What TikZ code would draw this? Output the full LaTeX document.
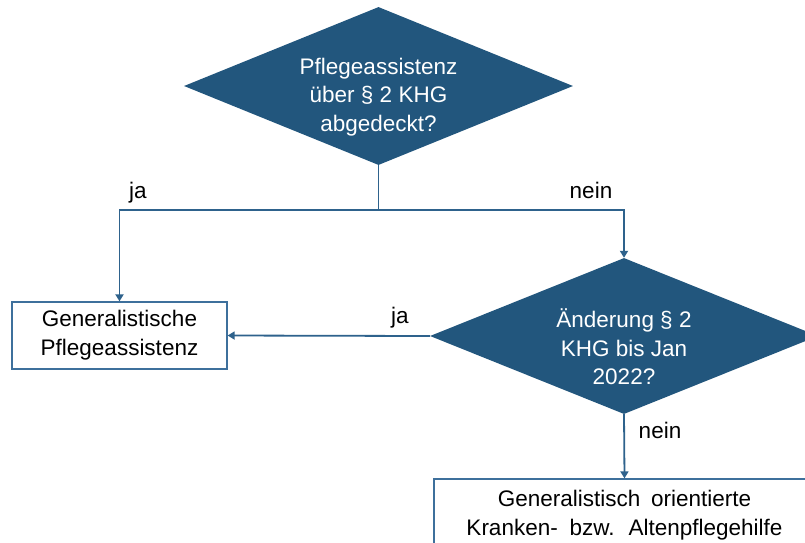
\documentclass[tikz,border=0pt]{standalone}
\usepackage{fontspec}
\setmainfont{Liberation Sans}
\usetikzlibrary{shapes.geometric,arrows.meta}
\definecolor{dfill}{RGB}{34,86,125}
\definecolor{lblue}{RGB}{46,98,140}
\definecolor{bblue}{RGB}{62,112,156}
\tikzset{
  dec/.style={shape=diamond, fill=dfill, draw=none, inner sep=0pt},
  dtext/.style={text=white, align=center, inner sep=0pt, font=\fontsize{22.5}{28.5}\selectfont},
  outbox/.style={draw=bblue, line width=1.3pt, fill=white, inner sep=0pt, align=center, font=\fontsize{22.5}{29}\selectfont},
  conn/.style={draw=lblue, line width=1.8pt},
  arr/.style={conn, -{Triangle[length=7pt,width=8pt]}},
  lbl/.style={font=\fontsize{22.5}{27}\selectfont, inner sep=0pt}
}
\begin{document}
\begin{tikzpicture}[x=1pt,y=-1pt]
\useasboundingbox (0,0) rectangle (805,542);
\clip (0,0) rectangle (805,542);
\fill[white] (0,0) rectangle (805,542);
% decisions
\node[dec, minimum width=389pt, minimum height=158pt] (d1) at (378.5,86) {};
\node[dtext] (d1t) at (378.5,97) {Pflegeassistenz\\über § 2 KHG\\abgedeckt?};
\node[dec, minimum width=388pt, minimum height=156pt] (d2) at (624,336) {};
\node[dtext] (d2t) at (624,347) {Änderung § 2\\KHG bis Jan\\2022?};
% outcomes
\node[outbox, minimum width=215pt, minimum height=67pt] (b1) at (119.5,335.5) {Generalistische\\Pflegeassistenz};
\node[outbox, minimum width=381pt, minimum height=72pt] (b2) at (624.5,515) {Generalistisch\hspace{0.2em} orientierte\\Kranken-\hspace{0.25em} bzw.\hspace{0.25em} Altenpflegehilfe};
% connectors
\coordinate (j) at (378.5,210);
\draw[conn] (d1.south) -- (j);
\draw[arr] (j) -| (b1.north);
\draw[arr] (j) -| (d2.north);
\draw[arr] (d2.west) -- (b1.east);
\draw[arr] (d2.south) -- (b2.north);
% labels
\node[lbl] (l1) at (138,193) {ja};
\node[lbl] (l2) at (591,190) {nein};
\node[lbl] (l3) at (400,318) {ja};
\node[lbl] (l4) at (660,430) {nein};
\end{tikzpicture}
\end{document}
